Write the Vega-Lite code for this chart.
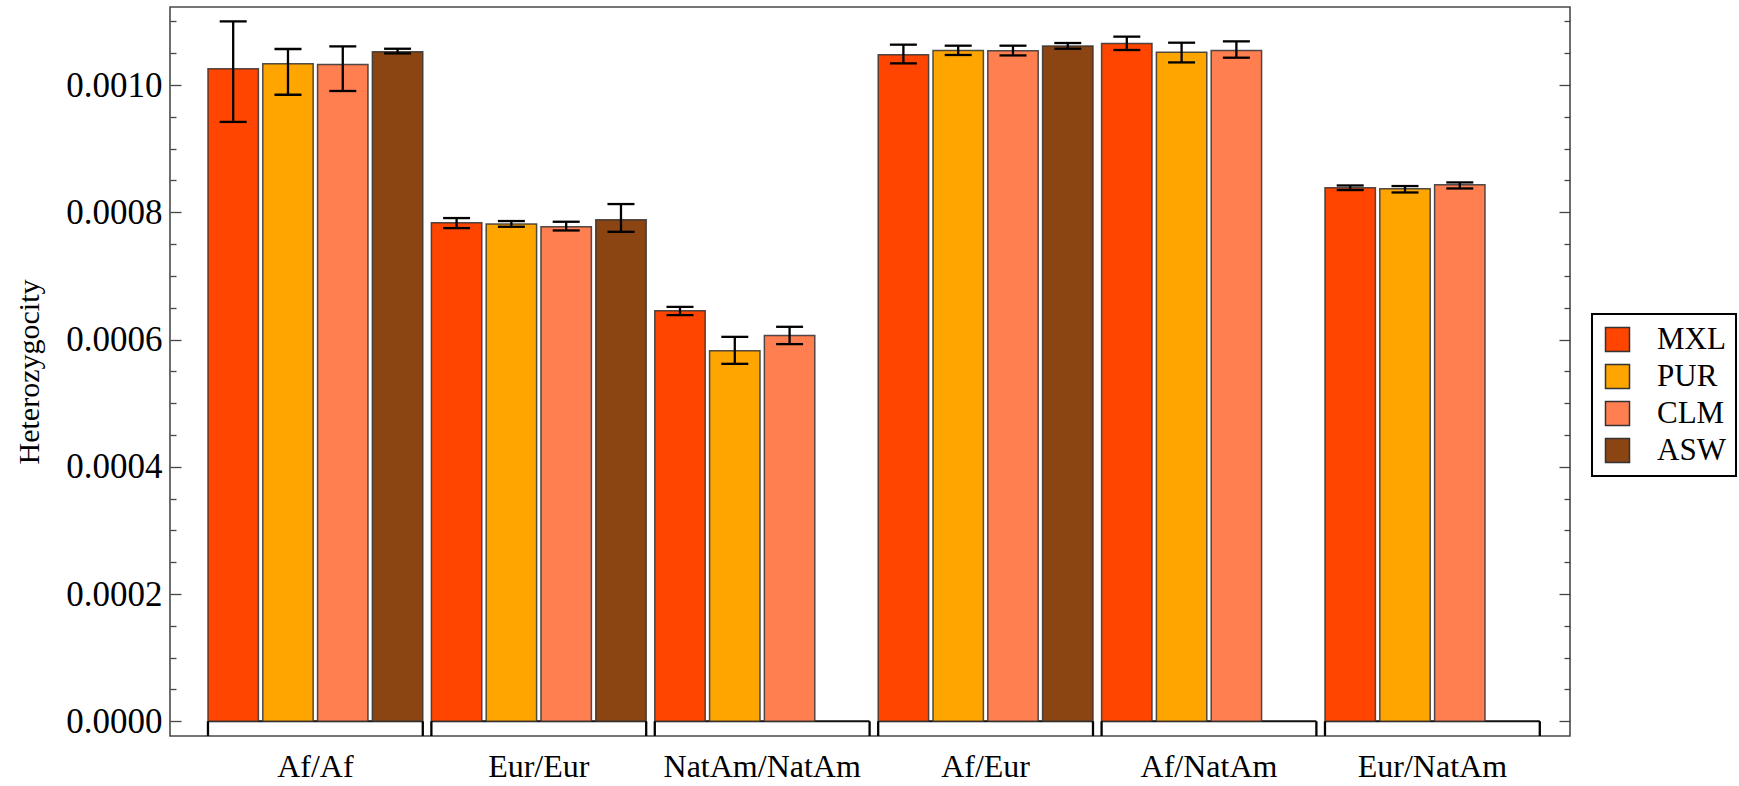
{
  "$schema": "https://vega.github.io/schema/vega-lite/v6.json",
  "width": 1400,
  "height": 729,
  "autosize": {"type": "none"},
  "padding": {"left": 170, "top": 7, "right": 169, "bottom": 50},
  "background": "white",
  "config": {
    "view": {"stroke": "#4a4a4a", "strokeWidth": 1.6},
    "font": "Times New Roman, Liberation Serif, serif",
    "axis": {"grid": false, "domain": false, "labelFont": "Times New Roman, Liberation Serif, serif", "titleFont": "Times New Roman, Liberation Serif, serif", "labelColor": "black", "titleColor": "black", "tickColor": "#444", "tickWidth": 1.3, "labelLimit": 0},
    "legend": {"labelFont": "Times New Roman, Liberation Serif, serif", "labelLimit": 0}
  },
  "datasets": {
    "het": [
      {"group": "Af/Af", "pop": "MXL", "value": 0.0010256, "lo": 0.000942, "hi": 0.0011},
      {"group": "Af/Af", "pop": "PUR", "value": 0.0010335, "lo": 0.0009847, "hi": 0.0010566},
      {"group": "Af/Af", "pop": "CLM", "value": 0.0010324, "lo": 0.0009906, "hi": 0.0010607},
      {"group": "Af/Af", "pop": "ASW", "value": 0.0010524, "lo": 0.0010497, "hi": 0.001057},
      {"group": "Eur/Eur", "pop": "MXL", "value": 0.0007835, "lo": 0.0007751, "hi": 0.0007909},
      {"group": "Eur/Eur", "pop": "PUR", "value": 0.0007814, "lo": 0.0007772, "hi": 0.0007862},
      {"group": "Eur/Eur", "pop": "CLM", "value": 0.0007772, "lo": 0.0007714, "hi": 0.0007851},
      {"group": "Eur/Eur", "pop": "ASW", "value": 0.0007882, "lo": 0.0007693, "hi": 0.0008129},
      {"group": "NatAm/NatAm", "pop": "MXL", "value": 0.0006451, "lo": 0.0006384, "hi": 0.0006514},
      {"group": "NatAm/NatAm", "pop": "PUR", "value": 0.0005822, "lo": 0.0005618, "hi": 0.0006042},
      {"group": "NatAm/NatAm", "pop": "CLM", "value": 0.0006063, "lo": 0.0005928, "hi": 0.00062},
      {"group": "Af/Eur", "pop": "MXL", "value": 0.0010476, "lo": 0.001034, "hi": 0.0010634},
      {"group": "Af/Eur", "pop": "PUR", "value": 0.0010544, "lo": 0.0010472, "hi": 0.0010618},
      {"group": "Af/Eur", "pop": "CLM", "value": 0.0010539, "lo": 0.0010465, "hi": 0.0010618},
      {"group": "Af/Eur", "pop": "ASW", "value": 0.0010613, "lo": 0.001057, "hi": 0.001066},
      {"group": "Af/NatAm", "pop": "MXL", "value": 0.0010654, "lo": 0.001055, "hi": 0.001076},
      {"group": "Af/NatAm", "pop": "PUR", "value": 0.0010513, "lo": 0.0010355, "hi": 0.0010665},
      {"group": "Af/NatAm", "pop": "CLM", "value": 0.0010544, "lo": 0.0010429, "hi": 0.0010686},
      {"group": "Eur/NatAm", "pop": "MXL", "value": 0.0008385, "lo": 0.0008349, "hi": 0.0008421},
      {"group": "Eur/NatAm", "pop": "PUR", "value": 0.000837, "lo": 0.0008311, "hi": 0.0008412},
      {"group": "Eur/NatAm", "pop": "CLM", "value": 0.0008432, "lo": 0.0008374, "hi": 0.0008469}
    ],
    "groups": [
      {"group": "Af/Af"}, {"group": "Eur/Eur"}, {"group": "NatAm/NatAm"},
      {"group": "Af/Eur"}, {"group": "Af/NatAm"}, {"group": "Eur/NatAm"}
    ]
  },
  "resolve": {"axis": {"x": "independent", "y": "independent"}},
  "layer": [
    {
      "data": {"name": "groups"},
      "mark": {"type": "bar", "fill": "white", "fillOpacity": 0, "stroke": "#111", "strokeWidth": 2},
      "encoding": {
        "x": {"field": "group", "type": "nominal", "sort": null,
              "scale": {"paddingInner": 0.0385, "paddingOuter": 0.1526, "align": 0.557}, "axis": null},
        "y": {"datum": 0, "type": "quantitative",
              "scale": {"domain": [-0.0000231, 0.0011226], "nice": false, "zero": false},
              "axis": {"orient": "left", "title": null, "labels": false, "tickSize": -6,
                       "values": [0.00005, 0.0001, 0.00015, 0.00025, 0.0003, 0.00035, 0.00045, 0.0005, 0.00055, 0.00065, 0.0007, 0.00075, 0.00085, 0.0009, 0.00095, 0.00105, 0.0011]}},
        "y2": {"datum": 0}
      }
    },
    {
      "data": {"name": "het"},
      "mark": {"type": "bar", "stroke": "#333", "strokeWidth": 1.5, "strokeOpacity": 0.85},
      "encoding": {
        "x": {"field": "group", "type": "nominal", "sort": null,
              "scale": {"paddingInner": 0.0385, "paddingOuter": 0.1526, "align": 0.557},
              "axis": {"title": null, "ticks": false, "labelAngle": 0, "labelFontSize": 32, "labelPadding": 15, "labelBaseline": "top",
                       "labelLimit": 0, "labelFont": "Times New Roman, Liberation Serif, serif"}},
        "xOffset": {"field": "pop", "type": "nominal",
                    "scale": {"domain": ["MXL", "PUR", "CLM", "ASW"], "paddingInner": 0.08, "paddingOuter": 0}},
        "y": {"field": "value", "type": "quantitative",
              "scale": {"domain": [-0.0000231, 0.0011226], "nice": false, "zero": false},
              "axis": {"orient": "left", "title": "Heterozygocity", "titleFontSize": 30, "titleFontWeight": "normal",
                       "titleFont": "Times New Roman, Liberation Serif, serif", "labelFont": "Times New Roman, Liberation Serif, serif",
                       "titleX": -141, "titleY": 364.5, "titleAlign": "center", "titleBaseline": "middle", "titleAngle": -90,
                       "values": [0, 0.0002, 0.0004, 0.0006, 0.0008, 0.001], "format": ".4f",
                       "labelFontSize": 35, "tickSize": -11, "labelPadding": 19}},
        "y2": {"datum": 0},
        "color": {"field": "pop", "type": "nominal",
                  "scale": {"domain": ["MXL", "PUR", "CLM", "ASW"], "range": ["#FF4500", "#FFA500", "#FF7F50", "#8B4513"]},
                  "legend": {"title": null, "orient": "none", "legendX": 1422, "legendY": 307,
                             "symbolType": "square", "symbolSize": 576, "symbolStrokeColor": "#333", "symbolStrokeWidth": 1.5,
                             "labelFont": "Times New Roman, Liberation Serif, serif", "labelFontSize": 31, "labelColor": "black", "labelOffset": 24,
                             "rowPadding": 5, "padding": 10, "strokeColor": "#000",
                             "encode": {"legend": {"update": {"strokeWidth": {"value": 2}}}}}}
      }
    },
    {
      "data": {"name": "het"},
      "mark": {"type": "rule", "color": "black", "strokeWidth": 2.3},
      "encoding": {
        "x": {"field": "group", "type": "nominal", "sort": null,
              "scale": {"paddingInner": 0.0385, "paddingOuter": 0.1526, "align": 0.557}, "axis": null},
        "xOffset": {"field": "pop", "type": "nominal",
                    "scale": {"domain": ["MXL", "PUR", "CLM", "ASW"], "paddingInner": 0.08, "paddingOuter": 0}},
        "y": {"field": "lo", "type": "quantitative",
              "scale": {"domain": [-0.0000231, 0.0011226], "nice": false, "zero": false},
              "axis": {"orient": "right", "title": null, "labels": false, "tickSize": -11,
                       "values": [0, 0.0002, 0.0004, 0.0006, 0.0008, 0.001]}},
        "y2": {"field": "hi"}
      }
    },
    {
      "data": {"name": "het"},
      "transform": [{"fold": ["lo", "hi"], "as": ["end", "bound"]}],
      "mark": {"type": "tick", "color": "black", "size": 27, "thickness": 2.3, "opacity": 1},
      "encoding": {
        "x": {"field": "group", "type": "nominal", "sort": null,
              "scale": {"paddingInner": 0.0385, "paddingOuter": 0.1526, "align": 0.557}, "axis": null},
        "xOffset": {"field": "pop", "type": "nominal",
                    "scale": {"domain": ["MXL", "PUR", "CLM", "ASW"], "paddingInner": 0.08, "paddingOuter": 0}},
        "y": {"field": "bound", "type": "quantitative",
              "scale": {"domain": [-0.0000231, 0.0011226], "nice": false, "zero": false},
              "axis": {"orient": "right", "title": null, "labels": false, "tickSize": -6,
                       "values": [0.00005, 0.0001, 0.00015, 0.00025, 0.0003, 0.00035, 0.00045, 0.0005, 0.00055, 0.00065, 0.0007, 0.00075, 0.00085, 0.0009, 0.00095, 0.00105, 0.0011]}}
      }
    },
    {
      "data": {"name": "groups"},
      "mark": {"type": "rule", "color": "black", "strokeWidth": 2.3},
      "encoding": {
        "x": {"field": "group", "type": "nominal", "sort": null, "bandPosition": 0,
              "scale": {"paddingInner": 0.0385, "paddingOuter": 0.1526, "align": 0.557}, "axis": null},
        "y": {"datum": 0, "type": "quantitative",
              "scale": {"domain": [-0.0000231, 0.0011226], "nice": false, "zero": false}, "axis": null},
        "y2": {"datum": -0.0000231}
      }
    },
    {
      "data": {"name": "groups"},
      "mark": {"type": "rule", "color": "black", "strokeWidth": 2.3},
      "encoding": {
        "x": {"field": "group", "type": "nominal", "sort": null, "bandPosition": 1,
              "scale": {"paddingInner": 0.0385, "paddingOuter": 0.1526, "align": 0.557}, "axis": null},
        "y": {"datum": 0, "type": "quantitative",
              "scale": {"domain": [-0.0000231, 0.0011226], "nice": false, "zero": false}, "axis": null},
        "y2": {"datum": -0.0000231}
      }
    }
  ]
}
